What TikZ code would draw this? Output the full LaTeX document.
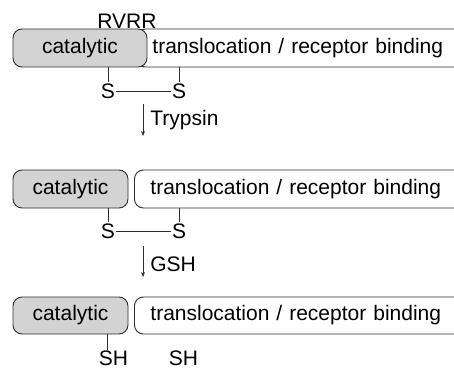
\documentclass[tikz,border=0pt]{standalone}
\usepackage{fontspec}
\setmainfont{Liberation Sans}
\usetikzlibrary{arrows.meta}
\definecolor{catgray}{HTML}{D3D3D3}
\definecolor{linegray}{HTML}{2E2E2E}

\begin{document}
\begin{tikzpicture}[x=1pt, y=-1pt,
    catbox/.style={draw=linegray, fill=catgray, rounded corners=9pt, minimum height=38pt,
                   inner sep=0pt, font=\fontsize{21}{25}\selectfont, line width=0.9pt},
    dombox/.style={draw=linegray, fill=white, rounded corners=9pt, minimum height=38pt,
                   anchor=west, text width=330pt, align=left, inner xsep=16pt, inner ysep=0pt,
                   font=\fontsize{21}{25}\selectfont, line width=0.9pt},
    lbl/.style={inner sep=1pt, font=\fontsize{21}{25}\selectfont},
    bond/.style={draw=linegray, line width=0.8pt},
    react/.style={-{Stealth[length=5pt, width=4pt]}, draw=linegray, line width=0.8pt}
]
\useasboundingbox (0,0) rectangle (454,369);
\clip (0,0) rectangle (454,369);

% --- row 1: intact toxin ---
\node[dombox] (tl1) at (136,48) {translocation / receptor binding};
\node[catbox, minimum width=134pt] (cat1) at (80,48) {catalytic};
\node[lbl] (rvrr) at (127,21) {RVRR};
\node[lbl] (s1a) at (108,91) {S};
\node[lbl] (s1b) at (179,91) {S};

% --- row 2: nicked ---
\node[catbox, minimum width=115pt] (cat2) at (70.5,189) {catalytic};
\node[dombox] (tl2) at (134,189) {translocation / receptor binding};
\node[lbl] (s2a) at (108,231) {S};
\node[lbl] (s2b) at (179,231) {S};

% --- row 3: reduced ---
\node[catbox, minimum width=115pt, minimum height=37pt] (cat3) at (70.5,315.5) {catalytic};
\node[dombox, minimum height=37pt] (tl3) at (134,315.5) {translocation / receptor binding};
\node[lbl] (sh3a) at (113.5,358.5) {SH};
\node[lbl] (sh3b) at (183.5,358.5) {SH};

% --- arrow ends ---
\coordinate (t0) at (143,104);
\coordinate (t1) at (143,136);
\coordinate (g0) at (143,246);
\coordinate (g1) at (143,277);

% --- bonds ---
\draw[bond] (s1a |- cat1.south) -- (s1a.north);
\draw[bond] (s1b |- tl1.south) -- (s1b.north);
\draw[bond] (s1a.east) -- (s1b.west);

\draw[bond] (s2a |- cat2.south) -- (s2a.north);
\draw[bond] (s2b |- tl2.south) -- (s2b.north);
\draw[bond] (s2a.east) -- (s2b.west);

\draw[bond] ([xshift=-6.5pt]sh3a.north |- cat3.south) -- ([xshift=-6.5pt]sh3a.north);

% --- steps ---
\draw[react] (t0) -- node[lbl, right, xshift=6pt]{Trypsin} (t1);
\draw[react] (g0) -- node[lbl, right, xshift=6pt, yshift=-3pt]{GSH} (g1);

\end{tikzpicture}
\end{document}
